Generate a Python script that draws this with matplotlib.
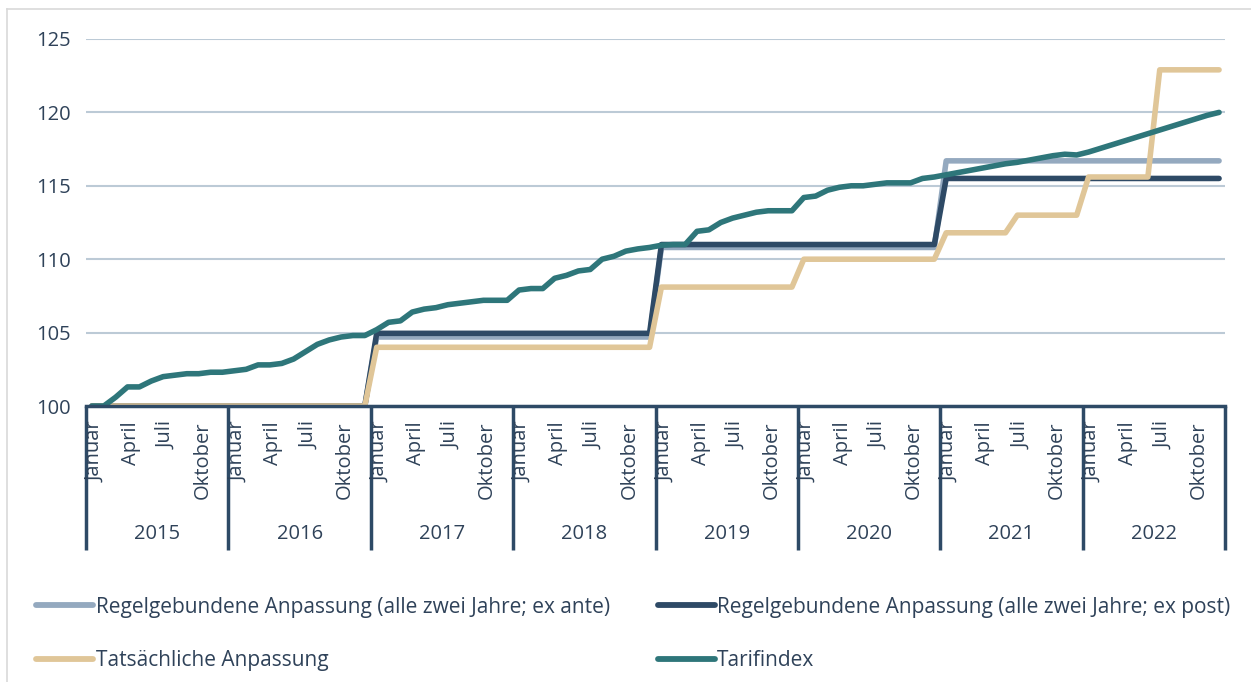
import numpy as np
import matplotlib.pyplot as plt
from matplotlib.lines import Line2D
import matplotlib.transforms as mtransforms

plt.rcParams['font.family'] = ['Open Sans', 'DejaVu Sans']

years = ['2015', '2016', '2017', '2018', '2019', '2020', '2021', '2022']
month_labels = ['Januar', 'April', 'Juli', 'Oktober']
month_label_idx = [0, 3, 6, 9]

# monthly values, one row per year
ex_ante = (
    [100.0] * 12 + [100.0] * 12 +
    [104.7] * 12 + [104.7] * 12 +
    [110.8] * 12 + [110.8] * 12 +
    [116.7] * 12 + [116.7] * 12
)
ex_post = (
    [100.0] * 12 + [100.0] * 12 +
    [104.95] * 12 + [104.95] * 12 +
    [111.0] * 12 + [111.0] * 12 +
    [115.5] * 12 + [115.5] * 12
)
tatsaechlich = (
    [100.0] * 12 + [100.0] * 12 +
    [104.0] * 12 + [104.0] * 12 +
    [108.1] * 12 + [110.0] * 12 +
    [111.8] * 6 + [113.0] * 6 +
    [115.6] * 6 + [122.9] * 6
)
tarifindex = [
    100.0, 100.0, 100.6, 101.3, 101.3, 101.7, 102.0, 102.1, 102.2, 102.2, 102.3, 102.3,
    102.4, 102.5, 102.8, 102.8, 102.9, 103.2, 103.7, 104.2, 104.5, 104.7, 104.8, 104.8,
    105.2, 105.7, 105.8, 106.4, 106.6, 106.7, 106.9, 107.0, 107.1, 107.2, 107.2, 107.2,
    107.9, 108.0, 108.0, 108.7, 108.9, 109.2, 109.3, 110.0, 110.2, 110.55, 110.7, 110.8,
    110.95, 111.0, 111.0, 111.9, 112.0, 112.5, 112.8, 113.0, 113.2, 113.3, 113.3, 113.3,
    114.2, 114.3, 114.7, 114.9, 115.0, 115.0, 115.1, 115.2, 115.2, 115.2, 115.5, 115.6,
    115.75, 115.9, 116.05, 116.2, 116.35, 116.5, 116.6, 116.75, 116.9, 117.05, 117.15, 117.1,
    117.3, 117.55, 117.8, 118.05, 118.3, 118.55, 118.8, 119.05, 119.3, 119.55, 119.8, 120.0,
]

c_ante = '#94A9BF'
c_post = '#2E4A66'
c_tat = '#E0C698'
c_tarif = '#2E767A'
c_text = '#2F4259'
c_grid = '#BCCAD6'

fig = plt.figure(figsize=(12.51, 6.82), dpi=100)
ax = fig.add_axes([86 / 1251, 1 - 406 / 682, (1225 - 86) / 1251, 367 / 682])

x = np.arange(len(tarifindex)) + 0.5
lw = 4.0
style = dict(lw=lw, solid_capstyle='round', solid_joinstyle='round')
l1, = ax.plot(x, ex_ante, color=c_ante, label='Regelgebundene Anpassung (alle zwei Jahre; ex ante)', **style)
l2, = ax.plot(x, ex_post, color=c_post, label='Regelgebundene Anpassung (alle zwei Jahre; ex post)', **style)
l3, = ax.plot(x, tatsaechlich, color=c_tat, label='Tatsächliche Anpassung', **style)
l4, = ax.plot(x, tarifindex, color=c_tarif, label='Tarifindex', **style)

ax.set_xlim(0, len(tarifindex))
ax.set_ylim(100, 125)
ax.set_yticks([100, 105, 110, 115, 120, 125])
ax.yaxis.grid(True, color=c_grid, lw=1.5)
ax.set_axisbelow(True)
for s in ['top', 'right', 'left']:
    ax.spines[s].set_visible(False)
ax.spines['bottom'].set_color(c_post)
ax.spines['bottom'].set_linewidth(2.5)
ax.tick_params(axis='y', length=0, pad=11, labelsize=14.5, labelcolor=c_text)
ax.set_xticks([])

# category axis: month labels, year labels, separators
trans = mtransforms.blended_transform_factory(ax.transData, ax.transAxes)
for k, yr in enumerate(years):
    for lab, m in zip(month_labels, month_label_idx):
        ax.text(k * 12 + m + 0.8, -0.042, lab, transform=trans, rotation=90,
                ha='center', va='top', fontsize=14.5, color=c_text)
    ax.text(k * 12 + 6, -0.348, yr, transform=trans, ha='center', va='center',
            fontsize=14.5, color=c_text)
for k in range(len(years) + 1):
    ax.plot([k * 12, k * 12], [0, -0.392], transform=trans, color=c_post, lw=2.5,
            clip_on=False, solid_capstyle='butt')

leg = fig.legend(handles=[l1, l3, l2, l4], ncol=2, loc='upper left',
                 bbox_to_anchor=(17 / 1251, 1 - 578 / 682), frameon=False,
                 fontsize=15, handlelength=2.75, handletextpad=0.12,
                 columnspacing=2.3, labelspacing=1.55)
for t in leg.get_texts():
    t.set_color(c_text)
for h in leg.legend_handles:
    h.set_linewidth(4.2)

# chart border
fig.add_artist(Line2D([7 / 1251, 1], [1 - 9 / 682, 1 - 9 / 682], color='#D9D9D9', lw=1.2))
fig.add_artist(Line2D([7 / 1251, 7 / 1251], [0, 1 - 9 / 682], color='#D9D9D9', lw=1.2))

fig.savefig('out.png', dpi=100)
